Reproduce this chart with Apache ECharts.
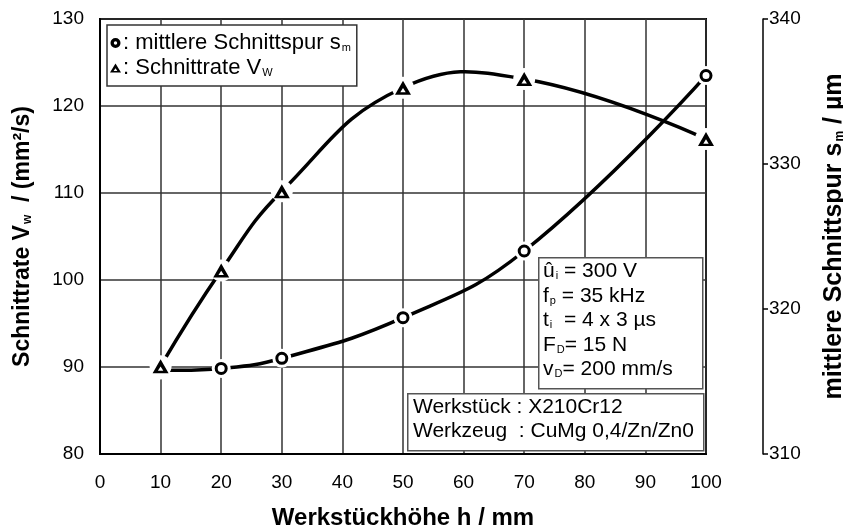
<!DOCTYPE html>
<html>
<head>
<meta charset="utf-8">
<script src="https://cdn.jsdelivr.net/npm/echarts@6/dist/echarts.min.js"></script>
<style>
html,body{margin:0;padding:0;background:#fff;}
#chart{width:843px;height:528px;}
</style>
</head>
<body>
<div id="chart"></div>
<script>
// ---- data ----
var xValues = [10, 20, 30, 50, 70, 100];
var schnittrate = [90.1, 101.1, 110.2, 122.1, 123.1, 116.2];      // left axis, mm²/s
var schnittspur = [315.8, 315.9, 316.6, 319.4, 324.0, 336.1];     // right axis, µm
var xTicks = [0, 10, 20, 30, 40, 50, 60, 70, 80, 90, 100];
var leftTicks = [80, 90, 100, 110, 120, 130];
var rightTicks = [310, 320, 330, 340];
var paramLines = ['û{s|i} = 300 V', 'f{s|p} = 35 kHz', 't{s|i}  = 4 x 3 µs', 'F{s|D}= 15 N', 'v{s|D}= 200 mm/s'];
var materialLines = ['Werkstück : X210Cr12', 'Werkzeug  : CuMg 0,4/Zn/Zn0'];

function pairs(xs, ys) { return xs.map(function (x, i) { return [x, ys[i]]; }); }

var FONT = '"Liberation Sans", Arial, sans-serif';
var HALO = '#fff';
var chart = echarts.init(document.getElementById('chart'));
var subRich = { s: { fontSize: 11, fontFamily: FONT, padding: [10, 0, 0, 1], color: '#000' } };
var subBold = { s: { fontSize: 12, fontWeight: 'bold', fontFamily: FONT, padding: [10, 0, 0, 1], color: '#000' } };
var ringIcon = 'path://M5,0 A5,5 0 1,1 -5,0 A5,5 0 1,1 5,0 Z M1.7,0 A1.7,1.7 0 1,0 -1.7,0 A1.7,1.7 0 1,0 1.7,0 Z';
var triIcon = 'path://M0,-5 L5.6,4.2 L-5.6,4.2 Z M0,-0.2 L-1.9,2.6 L1.9,2.6 Z';

// smooth curve through all points of one series, positioned by the series' own axes
function curveRenderer(ys) {
  return function (params, api) {
    if (params.dataIndex !== 0) return null;
    var pts = xValues.map(function (x, i) { return api.coord([x, ys[i]]); });
    return { type: 'polyline', shape: { points: pts, smooth: 0.45 },
             style: { stroke: '#000', lineWidth: 3.5, fill: null }, silent: true };
  };
}
function haloRenderer(r) {
  return function (params, api) {
    var p = api.coord([api.value(0), api.value(1)]);
    return { type: 'circle', shape: { cx: p[0], cy: p[1], r: r }, style: { fill: HALO }, silent: true };
  };
}

var option = {
  animation: false,
  backgroundColor: '#fff',
  textStyle: { fontFamily: FONT },
  grid: { left: 100, right: 137, top: 19, bottom: 74, outerBoundsMode: 'none', containLabel: false,
          show: true, borderColor: '#000', borderWidth: 2, backgroundColor: 'transparent' },
  legend: {
    left: 107, top: 25, orient: 'vertical',
    backgroundColor: '#fff', borderColor: '#333', borderWidth: 1.5,
    padding: [6, 6, 6, 3], itemGap: 1, itemWidth: 11, itemHeight: 10,
    data: [
      { name: 'mittlere Schnittspur', icon: ringIcon, itemStyle: { color: '#000', borderWidth: 0 } },
      { name: 'Schnittrate', icon: triIcon, itemStyle: { color: '#000', borderWidth: 0 } }
    ],
    formatter: function (name) {
      return name === 'mittlere Schnittspur' ? ': mittlere Schnittspur s{s|m}' : ': Schnittrate V{s|W}';
    },
    textStyle: { fontSize: 22, lineHeight: 24, color: '#000', fontFamily: FONT, padding: [0, 0, 0, -3], rich: subRich },
    z: 10
  },
  xAxis: {
    type: 'value', min: 0, max: 100, interval: 10,
    name: 'Werkstückhöhe h / mm', nameLocation: 'middle', nameGap: 52,
    nameTextStyle: { fontSize: 24, fontWeight: 'bold', color: '#000', fontFamily: FONT },
    axisLine: { show: true, lineStyle: { color: '#000', width: 2 } },
    axisTick: { show: false },
    axisLabel: { fontSize: 19, color: '#000', margin: 19, formatter: function (v) { return xTicks.indexOf(v) >= 0 ? String(v) : ''; } },
    splitLine: { show: true, lineStyle: { color: '#333', width: 1.5 } }
  },
  yAxis: [{
    type: 'value', min: 80, max: 130, interval: 10, position: 'left',
    name: 'Schnittrate V{s|w}  / (mm²/s)', nameLocation: 'middle', nameGap: 66,
    nameTextStyle: { fontSize: 23, fontWeight: 'bold', color: '#000', fontFamily: FONT, rich: subBold },
    axisLine: { show: true, lineStyle: { color: '#000', width: 2 } },
    axisTick: { show: false },
    axisLabel: { fontSize: 19, color: '#000', margin: 16, formatter: function (v) { return leftTicks.indexOf(v) >= 0 ? String(v) : ''; } },
    splitLine: { show: true, lineStyle: { color: '#333', width: 1.5 } }
  }, {
    type: 'value', min: 310, max: 340, interval: 10, position: 'right', offset: 57,
    name: 'mittlere Schnittspur s{s|m} / µm', nameLocation: 'middle', nameGap: 59,
    nameTextStyle: { fontSize: 25, fontWeight: 'bold', color: '#000', fontFamily: FONT, rich: subBold },
    axisLine: { show: true, lineStyle: { color: '#000', width: 1.5 } },
    axisTick: { show: true, inside: false, length: 5, lineStyle: { color: '#000', width: 1.5 } },
    axisLabel: { fontSize: 19, color: '#000', margin: 6, formatter: function (v) { return rightTicks.indexOf(v) >= 0 ? String(v) : ''; } },
    splitLine: { show: false }
  }],
  series: [
    { name: 'spurCurve', type: 'custom', yAxisIndex: 1, data: pairs(xValues, schnittspur), renderItem: curveRenderer(schnittspur), z: 2, silent: true, clip: false },
    { name: 'rateCurve', type: 'custom', yAxisIndex: 0, data: pairs(xValues, schnittrate), renderItem: curveRenderer(schnittrate), z: 2, silent: true, clip: false },
    { name: 'spurHalo', type: 'custom', yAxisIndex: 1, data: pairs(xValues, schnittspur), renderItem: haloRenderer(9.5), z: 3, silent: true, clip: false },
    { name: 'mittlere Schnittspur', type: 'scatter', yAxisIndex: 1, data: pairs(xValues, schnittspur), symbol: 'circle', symbolSize: 10,
      itemStyle: { color: '#fff', borderColor: '#000', borderWidth: 3, opacity: 1 }, z: 4, clip: false },
    { name: 'rateHalo', type: 'custom', yAxisIndex: 0, data: pairs(xValues, schnittrate), renderItem: haloRenderer(11), z: 5, silent: true, clip: false },
    { name: 'Schnittrate', type: 'scatter', yAxisIndex: 0, data: pairs(xValues, schnittrate), symbol: triIcon, symbolSize: [16, 14],
      itemStyle: { color: '#000', borderWidth: 0, opacity: 1 }, z: 6, clip: false }
  ],
  graphic: [
    { type: 'rect', left: 538, top: 257, z: 20, shape: { width: 164, height: 131 },
      style: { fill: '#fff', stroke: '#555', lineWidth: 1.5 } },
    { type: 'text', left: 543, top: 259, z: 21,
      style: { text: paramLines.join('\n'), font: '21px ' + FONT, fill: '#000', lineHeight: 24.5, rich: subRich } },
    { type: 'rect', left: 407, top: 393, z: 20, shape: { width: 296, height: 57 },
      style: { fill: '#fff', stroke: '#555', lineWidth: 1.5 } },
    { type: 'text', left: 413, top: 395, z: 21,
      style: { text: materialLines.join('\n'), font: '21px ' + FONT, fill: '#000', lineHeight: 24 } }
  ]
};
chart.setOption(option);
</script>
</body>
</html>
